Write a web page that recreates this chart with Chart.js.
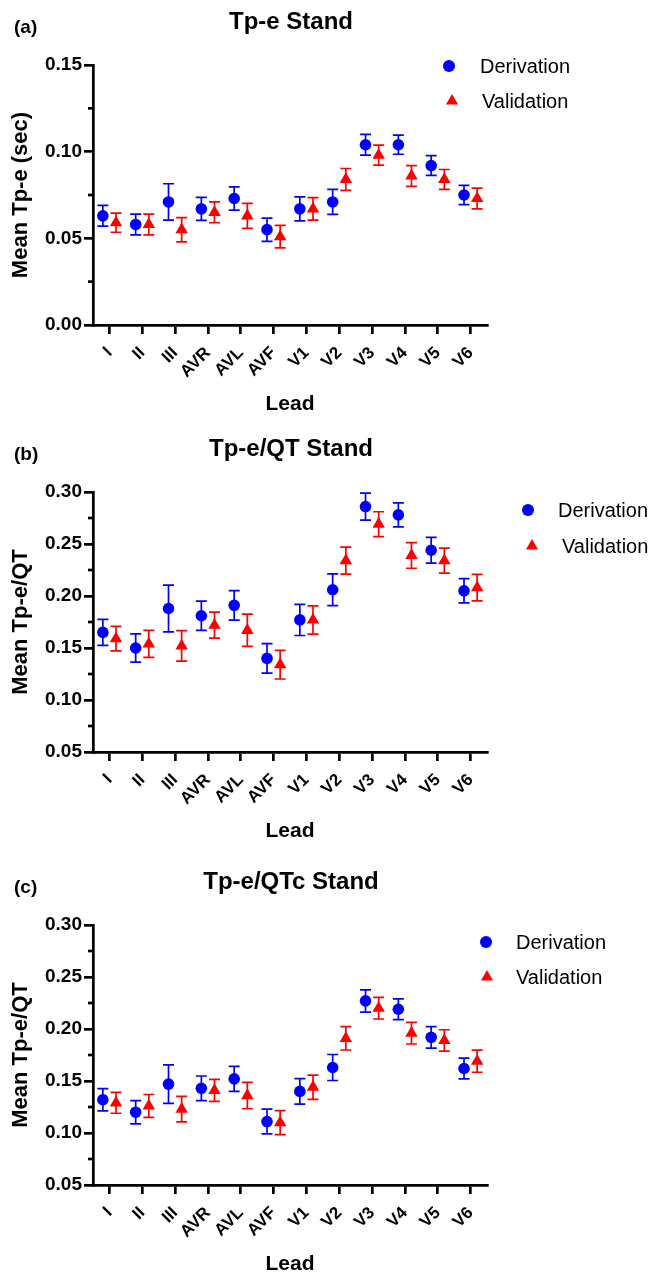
<!DOCTYPE html>
<html>
<head>
<meta charset="utf-8">
<script src="https://cdn.jsdelivr.net/npm/chart.js@4.4.1/dist/chart.umd.min.js"></script>
<style>
html, body { margin: 0; padding: 0; background: #fff; overflow: hidden; }
body { width: 665px; height: 1274px; position: relative; }
.panel { position: absolute; left: 0; width: 665px; }
</style>
</head>
<body>
<div class="panel" style="top:0;height:420px"><canvas id="chartA"></canvas></div>
<div class="panel" style="top:420px;height:430px"><canvas id="chartB"></canvas></div>
<div class="panel" style="top:850px;height:440px"><canvas id="chartC"></canvas></div>
<script>
const leads = ['I', 'II', 'III', 'AVR', 'AVL', 'AVF', 'V1', 'V2', 'V3', 'V4', 'V5', 'V6'];

// (a) Tp-e, seconds
const tpeDerivation = [0.063, 0.058, 0.071, 0.067, 0.073, 0.055, 0.067, 0.071, 0.104, 0.104, 0.092, 0.075];
const tpeDerivationErr = [0.006, 0.006, 0.0105, 0.0066, 0.0067, 0.0067, 0.0069, 0.0072, 0.006, 0.0055, 0.0057, 0.0055];
const tpeValidation = [0.059, 0.058, 0.055, 0.065, 0.063, 0.051, 0.067, 0.084, 0.098, 0.086, 0.084, 0.073];
const tpeValidationErr = [0.0055, 0.006, 0.007, 0.006, 0.0072, 0.0065, 0.0065, 0.0063, 0.0058, 0.006, 0.0057, 0.006];

// (b) Tp-e/QT
const qtDerivation = [0.165, 0.150, 0.188, 0.181, 0.191, 0.140, 0.177, 0.206, 0.286, 0.278, 0.244, 0.205];
const qtDerivationErr = [0.0125, 0.0135, 0.0225, 0.014, 0.0142, 0.0142, 0.015, 0.0152, 0.013, 0.0115, 0.0123, 0.0117];
const qtValidation = [0.159, 0.154, 0.152, 0.172, 0.167, 0.134, 0.177, 0.234, 0.269, 0.239, 0.234, 0.208];
const qtValidationErr = [0.0117, 0.013, 0.0147, 0.0125, 0.0155, 0.0138, 0.0136, 0.013, 0.012, 0.0123, 0.012, 0.0127];

// (c) Tp-e/QTc
const qtcDerivation = [0.132, 0.120, 0.147, 0.143, 0.152, 0.111, 0.140, 0.163, 0.227, 0.219, 0.192, 0.162];
const qtcDerivationErr = [0.0107, 0.0112, 0.0186, 0.0118, 0.012, 0.0119, 0.0123, 0.0125, 0.0107, 0.0099, 0.0103, 0.01];
const qtcValidation = [0.129, 0.126, 0.123, 0.141, 0.136, 0.110, 0.144, 0.191, 0.220, 0.196, 0.189, 0.169];
const qtcValidationErr = [0.01, 0.011, 0.0123, 0.0105, 0.0127, 0.0116, 0.0117, 0.0112, 0.0104, 0.0104, 0.0103, 0.0106];

const BLUE = '#0000ff';
const RED = '#ff0000';
const FONT = "'Liberation Sans', Arial, Helvetica, sans-serif";

Chart.defaults.font.family = FONT;
Chart.defaults.color = '#000';

// vertical SEM bars with caps, drawn under the markers
const errorBars = {
  id: 'errorBars',
  beforeDatasetsDraw(chart) {
    const ctx = chart.ctx;
    const y = chart.scales.y;
    chart.data.datasets.forEach((ds, i) => {
      const meta = chart.getDatasetMeta(i);
      ctx.save();
      ctx.strokeStyle = ds.borderColor;
      ctx.lineWidth = 1.7;
      meta.data.forEach((pt, j) => {
        const v = ds.data[j].y;
        const e = ds.errors[j];
        const top = y.getPixelForValue(v + e);
        const bot = y.getPixelForValue(v - e);
        ctx.beginPath();
        ctx.moveTo(pt.x, top); ctx.lineTo(pt.x, bot);
        ctx.moveTo(pt.x - 5.5, top); ctx.lineTo(pt.x + 5.5, top);
        ctx.moveTo(pt.x - 5.5, bot); ctx.lineTo(pt.x + 5.5, bot);
        ctx.stroke();
      });
      ctx.restore();
    });
  }
};

// short minor ticks between the labelled y ticks
const minorTicks = {
  id: 'minorTicks',
  afterDraw(chart) {
    const ctx = chart.ctx;
    const y = chart.scales.y;
    const left = chart.chartArea.left;
    ctx.save();
    ctx.strokeStyle = '#000';
    ctx.lineWidth = 2.7;
    for (let k = 0; k < y.ticks.length - 1; k++) {
      const mid = (y.ticks[k].value + y.ticks[k + 1].value) / 2;
      const py = y.getPixelForValue(mid);
      ctx.beginPath();
      ctx.moveTo(left - 5, py); ctx.lineTo(left, py);
      ctx.stroke();
    }
    ctx.restore();
  }
};

// panel tag, title and the legend in the upper right
const panelText = {
  id: 'panelText',
  afterDraw(chart, args, opts) {
    const ctx = chart.ctx;
    const area = chart.chartArea;
    ctx.save();
    ctx.fillStyle = '#000';
    ctx.textBaseline = 'alphabetic';
    ctx.font = 'bold 19px ' + FONT;
    ctx.textAlign = 'left';
    ctx.fillText(opts.tag, 14, area.top - 32);
    ctx.font = 'bold 24px ' + FONT;
    ctx.textAlign = 'center';
    ctx.fillText(opts.title, (area.left + area.right) / 2 + 1, area.top - 36);

    ctx.font = '20px ' + FONT;
    ctx.textAlign = 'left';
    ctx.textBaseline = 'middle';
    chart.data.datasets.forEach((ds, i) => {
      const cy = area.top + opts.legendY[i];
      const cx = opts.markX[i];
      ctx.fillStyle = ds.backgroundColor;
      ctx.beginPath();
      if (ds.pointStyle === 'triangle') {
        const r = 7;
        ctx.moveTo(cx, cy - r);
        ctx.lineTo(cx + r * 0.866, cy + r * 0.5);
        ctx.lineTo(cx - r * 0.866, cy + r * 0.5);
        ctx.closePath();
      } else {
        ctx.arc(cx, cy, 6, 0, Math.PI * 2);
      }
      ctx.fill();
      ctx.fillStyle = '#000';
      ctx.fillText(ds.label, opts.textX[i], cy + 1);
    });
    ctx.restore();
  }
};

function makePanel(id, p) {
  return new Chart(document.getElementById(id), {
    type: 'scatter',
    data: {
      datasets: [{
        label: 'Derivation',
        data: p.derivation.map((v, i) => ({ x: i - 0.2, y: v })),
        errors: p.derivationErr,
        pointStyle: 'circle',
        pointRadius: 5.8,
        borderWidth: 0,
        backgroundColor: BLUE,
        borderColor: BLUE
      }, {
        label: 'Validation',
        data: p.validation.map((v, i) => ({ x: i + 0.2, y: v })),
        errors: p.validationErr,
        pointStyle: 'triangle',
        pointRadius: 7.2,
        borderWidth: 0,
        backgroundColor: RED,
        borderColor: RED
      }]
    },
    options: {
      responsive: true,
      maintainAspectRatio: false,
      animation: false,
      layout: { padding: p.padding },
      scales: {
        x: {
          type: 'linear',
          min: -0.5,
          max: 11.5,
          afterBuildTicks: s => { s.ticks = leads.map((_, i) => ({ value: i })); },
          afterFit: s => { s.height = 92; },
          grid: { display: true, drawOnChartArea: false, drawTicks: true, tickLength: 9, lineWidth: 2.7, color: '#000' },
          border: { display: true, color: '#000', width: 2.7 },
          ticks: {
            autoSkip: false,
            minRotation: 45,
            maxRotation: 45,
            padding: 9,
            font: { size: 17, weight: 'bold' },
            callback: v => leads[v]
          },
          title: { display: true, text: 'Lead', font: { size: 21, weight: 'bold' }, padding: { top: 0, bottom: 0 } }
        },
        y: {
          min: p.yMin,
          max: p.yMax,
          afterFit: s => { s.width = 93; },
          grid: { display: true, drawOnChartArea: false, drawTicks: true, tickLength: 9, lineWidth: 2.7, color: '#000' },
          border: { display: true, color: '#000', width: 2.7 },
          ticks: {
            stepSize: 0.05,
            padding: 2,
            font: { size: 19, weight: 'bold' },
            callback: v => v.toFixed(2)
          },
          title: { display: true, text: p.yTitle, font: { size: 22, weight: 'bold' }, padding: { top: 8, bottom: 0 } }
        }
      },
      plugins: {
        legend: { display: false },
        tooltip: { enabled: false },
        panelText: { tag: p.tag, title: p.title, markX: p.markX, textX: p.textX, legendY: p.legendY }
      }
    },
    plugins: [errorBars, minorTicks, panelText]
  });
}

makePanel('chartA', {
  tag: '(a)', title: 'Tp-e Stand', yTitle: 'Mean Tp-e (sec)', yMin: 0, yMax: 0.15,
  derivation: tpeDerivation, derivationErr: tpeDerivationErr,
  validation: tpeValidation, validationErr: tpeValidationErr,
  padding: { top: 65, bottom: 3, left: 0, right: 178 },
  markX: [449, 452], textX: [480, 482], legendY: [1, 36]
});

makePanel('chartB', {
  tag: '(b)', title: 'Tp-e/QT Stand', yTitle: 'Mean Tp-e/QT', yMin: 0.05, yMax: 0.30,
  derivation: qtDerivation, derivationErr: qtDerivationErr,
  validation: qtValidation, validationErr: qtValidationErr,
  padding: { top: 72, bottom: 6, left: 0, right: 178 },
  markX: [528, 532], textX: [558, 562], legendY: [18, 54]
});

makePanel('chartC', {
  tag: '(c)', title: 'Tp-e/QTc Stand', yTitle: 'Mean Tp-e/QT', yMin: 0.05, yMax: 0.30,
  derivation: qtcDerivation, derivationErr: qtcDerivationErr,
  validation: qtcValidation, validationErr: qtcValidationErr,
  padding: { top: 75, bottom: 13, left: 0, right: 178 },
  markX: [486, 487], textX: [516, 516], legendY: [17, 52]
});
</script>
</body>
</html>
